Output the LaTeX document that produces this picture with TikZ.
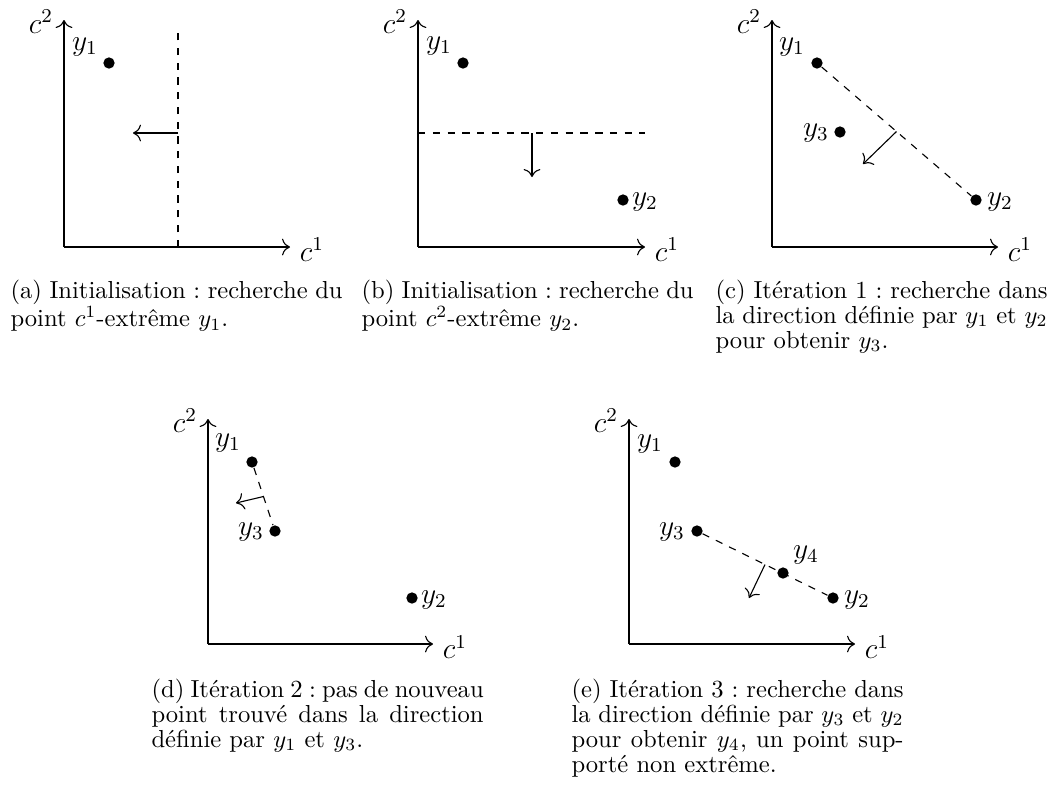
\documentclass[tikz,border=0pt]{standalone}
\usepackage{fontspec}
\usetikzlibrary{calc,arrows.meta}
\frenchspacing
\begin{document}
\begin{tikzpicture}[x=0.4065pt,y=-0.4065pt,line width=0.45pt,
  >={Computer Modern Rightarrow[scale=1.25]},
  ptnode/.style={circle,fill,inner sep=0pt,minimum size=4.6pt},
  lab/.style={font=\large,inner sep=0pt},
  axis/.style={->},
  sepline/.style={dashed},
  dirarrow/.style={->},
  captxt/.style={anchor=base west,inner sep=0pt,text width=135pt,align=justify,font=\fontsize{10}{10.2}\selectfont}]
\useasboundingbox (0,0) rectangle (1059,793);

% ---------- (a)
\coordinate (aO) at (64,247); \coordinate (aY) at (64,20); \coordinate (aX) at (290,247);
\draw[axis] (aO) -- (aY); \draw[axis] (aO) -- (aX);
\node[lab] (aC2) at (41,22) {$c^2$};
\node[lab] (aC1) at (312,250) {$c^1$};
\node[ptnode] (a1) at (109,63) {};
\node[lab] (a1l) at (85,47) {$y_1$};
\coordinate (aL1) at (178,247); \coordinate (aL2) at (178,31);
\draw[sepline] (aL1) -- (aL2);
\coordinate (aS) at (178,133); \coordinate (aE) at (133,133);
\draw[dirarrow] (aS) -- (aE);
\node[captxt] (acap) at (10,298) {(a) Initialisation : recherche du\linebreak point $c^1$-extrême $y_1$.};

% ---------- (b)
\coordinate (bO) at (418,247); \coordinate (bY) at (418,20); \coordinate (bX) at (645,247);
\draw[axis] (bO) -- (bY); \draw[axis] (bO) -- (bX);
\node[lab] (bC2) at (395,22) {$c^2$};
\node[lab] (bC1) at (667,250) {$c^1$};
\node[ptnode] (b1) at (463,63) {};
\node[lab] (b1l) at (439,46) {$y_1$};
\node[ptnode] (b2) at (623,200) {};
\node[lab] (b2l) at (645,202) {$y_2$};
\coordinate (bL1) at (418,133); \coordinate (bL2) at (645,133);
\draw[sepline] (bL1) -- (bL2);
\coordinate (bS) at (532,133); \coordinate (bE) at (532,177);
\draw[dirarrow] (bS) -- (bE);
\node[captxt] (bcap) at (361,298) {(b) Initialisation : recherche du\linebreak point $c^2$-extrême $y_2$.};

% ---------- (c)
\coordinate (cO) at (772,247); \coordinate (cY) at (772,20); \coordinate (cX) at (998,247);
\draw[axis] (cO) -- (cY); \draw[axis] (cO) -- (cX);
\node[lab] (cC2) at (749,22) {$c^2$};
\node[lab] (cC1) at (1020,250) {$c^1$};
\node[ptnode] (c1) at (817,63) {};
\node[lab] (c1l) at (792,47) {$y_1$};
\node[ptnode] (c3) at (840,132) {};
\node[lab] (c3l) at (816,133) {$y_3$};
\node[ptnode] (c2) at (976,200) {};
\node[lab] (c2l) at (1000,202) {$y_2$};
\draw[sepline] (c1) -- (c2);
\coordinate (cS) at ($(c1)!0.5!(c2)$); \coordinate (cE) at (863,164);
\draw[dirarrow] (cS) -- (cE);
\node[captxt] (ccap) at (715,298) {(c) Itération 1 : recherche dans\linebreak la direction définie par $y_1$ et $y_2$\linebreak pour obtenir $y_3$.};

% ---------- (d)
\coordinate (dO) at (208,644); \coordinate (dY) at (208,419); \coordinate (dX) at (433,644);
\draw[axis] (dO) -- (dY); \draw[axis] (dO) -- (dX);
\node[lab] (dC2) at (185,421) {$c^2$};
\node[lab] (dC1) at (455,647) {$c^1$};
\node[ptnode] (d1) at (252,462) {};
\node[lab] (d1l) at (228,443) {$y_1$};
\node[ptnode] (d3) at (275,531) {};
\node[lab] (d3l) at (251,532) {$y_3$};
\node[ptnode] (d2) at (412,598) {};
\node[lab] (d2l) at (434,600) {$y_2$};
\draw[sepline] (d1) -- (d3);
\coordinate (dS) at ($(d1)!0.5!(d3)$); \coordinate (dE) at (236,503);
\draw[dirarrow] (dS) -- (dE);
\node[captxt] (dcap) at (151,697) {(d) Itération 2 : pas de nouveau\linebreak point trouvé dans la direction\linebreak définie par $y_1$ et $y_3$.};

% ---------- (e)
\coordinate (eO) at (629,644); \coordinate (eY) at (629,419); \coordinate (eX) at (855,644);
\draw[axis] (eO) -- (eY); \draw[axis] (eO) -- (eX);
\node[lab] (eC2) at (606,421) {$c^2$};
\node[lab] (eC1) at (877,647) {$c^1$};
\node[ptnode] (e1) at (675,462) {};
\node[lab] (e1l) at (650,444) {$y_1$};
\node[ptnode] (e3) at (697,531) {};
\node[lab] (e3l) at (672,532) {$y_3$};
\node[ptnode] (e4) at (783,573) {};
\node[lab] (e4l) at (806,555) {$y_4$};
\node[ptnode] (e2) at (833,598) {};
\node[lab] (e2l) at (857,600) {$y_2$};
\draw[sepline] (e3) -- (e2);
\coordinate (eS) at ($(e3)!0.5!(e2)$); \coordinate (eE) at (749,598);
\draw[dirarrow] (eS) -- (eE);
\node[captxt] (ecap) at (571,697) {(e) Itération 3 : recherche dans\linebreak la direction définie par $y_3$ et $y_2$\linebreak pour obtenir $y_4$, un point sup-\linebreak porté non extrême.};
\end{tikzpicture}
\end{document}
